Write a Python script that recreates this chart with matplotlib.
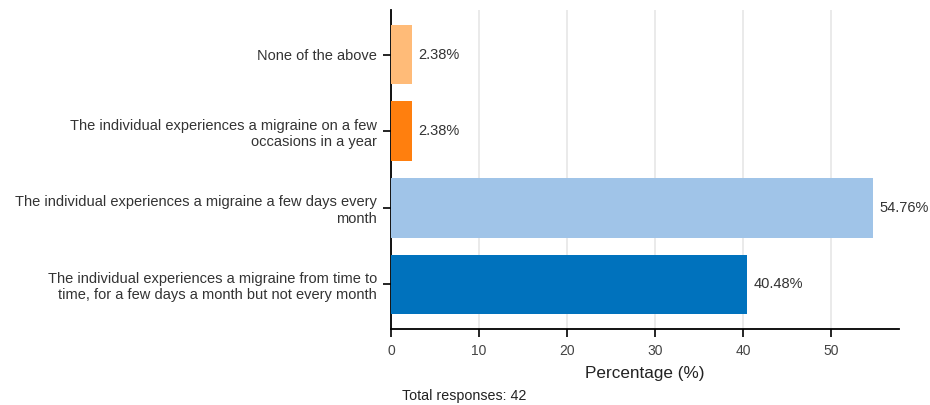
import matplotlib
matplotlib.use('Agg')
import numpy as np
import matplotlib.pyplot as plt
plt.rcParams['font.family'] = ['Liberation Sans', 'DejaVu Sans']

categories = ['The individual experiences a migraine from time to\ntime, for a few days a month but not every month',
              'The individual experiences a migraine a few days every\nmonth',
              'The individual experiences a migraine on a few\noccasions in a year',
              'None of the above']
values = [40.48, 54.76, 2.38, 2.38]
colors = ['#0072BD', '#A0C4E8', '#FF7F0E', '#FFBB78']
total = 42

fig = plt.figure(figsize=(9.3, 4.05), dpi=100)
ax = fig.add_axes([0.4204, 0.188, 0.546, 0.787])
y = np.arange(len(categories))
bars = ax.barh(y, values, height=0.78, color=colors, zorder=3)
ax.set_xlim(0, 57.7)
ax.set_yticks(y)
ax.set_yticklabels(categories, fontsize=10.5, color='#333333')
ax.set_xticks(np.arange(0, 51, 10))
ax.tick_params(axis='x', labelsize=10, labelcolor='#444444', length=6, width=1.2, pad=5)
ax.tick_params(axis='y', length=6, width=1.2, pad=4)
ax.grid(axis='x', color='#e6e6e6', linewidth=1.2, zorder=0)
for s in ['top', 'right']:
    ax.spines[s].set_visible(False)
for s in ['left', 'bottom']:
    ax.spines[s].set_linewidth(1.3)
ax.set_xlabel('Percentage (%)', fontsize=12.3, color='#222222', labelpad=6)

for rect, v in zip(bars, values):
    ax.annotate('{:.2f}%'.format(v), xy=(rect.get_width(), rect.get_y() + rect.get_height() / 2),
                xytext=(4.5, 0), textcoords='offset points', ha='left', va='center',
                fontsize=10.5, color='#333333')

fig.text(0.432, 0.012, 'Total responses: {}'.format(total), fontsize=10.3, color='#222222')
fig.savefig('out.png', dpi=100)
